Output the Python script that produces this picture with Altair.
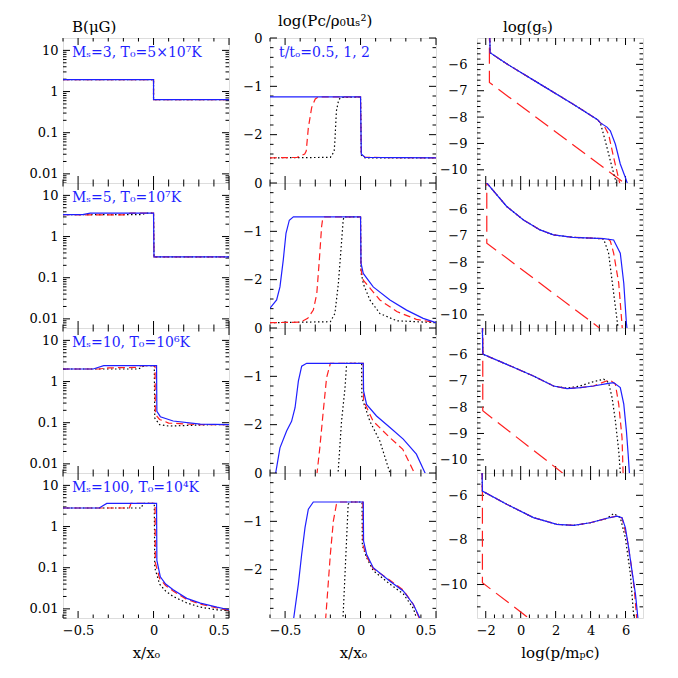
import altair as alt
import pandas as pd

# ---------------- data ----------------
# Column 1: B (muG) vs x/x_o, series t/t_o = 0.5 (black), 1 (red), 2 (blue)
B_M3_black = [(-0.6, 1.95), (0.0, 1.95), (0.0, 0.64), (0.5, 0.64)]
B_M3_red = [(-0.6, 1.95), (0.0, 1.95), (0.0, 0.64), (0.5, 0.64)]
B_M3_blue = [(-0.6, 1.95), (0.0, 1.95), (0.0, 0.64), (0.5, 0.64)]

B_M5_black = [(-0.6, 3.4), (-0.08, 3.4), (-0.05, 3.7), (0.0, 3.7), (0.003, 0.32), (0.5, 0.32)]
B_M5_red = [(-0.6, 3.4), (-0.35, 3.35), (-0.2, 3.35), (-0.15, 3.7), (0.0, 3.7), (0.003, 0.32), (0.5, 0.32)]
B_M5_blue = [(-0.6, 3.4), (-0.47, 3.4), (-0.42, 3.7), (0.0, 3.7), (0.003, 0.32), (0.5, 0.32)]

B_M10_black = [(-0.6, 2.02), (-0.1, 2.02), (-0.06, 2.43), (0.005, 2.43), (0.008, 0.13), (0.04, 0.09),
               (0.1, 0.083), (0.2, 0.085), (0.35, 0.089), (0.5, 0.09)]
B_M10_red = [(-0.6, 2.02), (-0.36, 2.02), (-0.3, 2.15), (-0.12, 2.2), (-0.08, 2.43), (0.01, 2.43),
             (0.012, 0.16), (0.04, 0.12), (0.1, 0.098), (0.3, 0.09), (0.5, 0.09)]
B_M10_blue = [(-0.6, 2.02), (-0.4, 2.02), (-0.33, 2.43), (0.02, 2.43), (0.022, 0.19), (0.045, 0.14),
              (0.13, 0.11), (0.31, 0.092), (0.5, 0.09)]

B_M100_black = [(-0.6, 2.82), (-0.08, 2.82), (-0.07, 3.64), (0.005, 3.64), (0.008, 0.1), (0.04, 0.04),
                (0.08, 0.027), (0.13, 0.02), (0.22, 0.014), (0.31, 0.011), (0.42, 0.0095), (0.5, 0.009)]
B_M100_red = [(-0.6, 2.82), (-0.16, 2.82), (-0.15, 3.64), (0.01, 3.64), (0.012, 0.13), (0.04, 0.055),
              (0.08, 0.037), (0.13, 0.027), (0.22, 0.017), (0.31, 0.013), (0.42, 0.0105), (0.5, 0.0093)]
B_M100_blue = [(-0.6, 2.82), (-0.36, 2.82), (-0.31, 3.64), (0.02, 3.64), (0.022, 0.15), (0.045, 0.06),
               (0.08, 0.04), (0.13, 0.029), (0.22, 0.018), (0.31, 0.0138), (0.42, 0.011), (0.5, 0.0095)]

# Column 2: log(Pc / rho0 us^2) vs x/x_o
PC_M3_black = [(-0.6, -2.48), (-0.2, -2.47), (-0.175, -2.35), (-0.17, -2.13), (-0.16, -1.51),
               (-0.145, -1.28), (-0.13, -1.23), (0.0, -1.22), (0.005, -2.42), (0.03, -2.48), (0.5, -2.48)]
PC_M3_red = [(-0.6, -2.48), (-0.42, -2.47), (-0.37, -2.40), (-0.36, -2.34), (-0.346, -1.86),
             (-0.324, -1.44), (-0.30, -1.26), (-0.28, -1.22), (0.0, -1.22), (0.005, -2.40),
             (0.03, -2.47), (0.5, -2.48)]
PC_M3_blue = [(-0.6, -1.22), (0.0, -1.22), (0.005, -2.40), (0.03, -2.47), (0.5, -2.48)]

PC_M5_black = [(-0.6, -2.89), (-0.2, -2.87), (-0.17, -2.70), (-0.147, -2.08), (-0.13, -1.39),
               (-0.115, -0.77), (-0.11, -0.70), (0.0, -0.70), (0.003, -1.85), (0.02, -2.1),
               (0.062, -2.42), (0.128, -2.70), (0.24, -2.85), (0.5, -2.89)]
PC_M5_red = [(-0.6, -2.89), (-0.4, -2.88), (-0.35, -2.80), (-0.313, -2.63), (-0.29, -2.29),
             (-0.273, -1.59), (-0.258, -0.90), (-0.25, -0.72), (-0.24, -0.70), (0.0, -0.70),
             (0.003, -1.80), (0.018, -2.01), (0.128, -2.42), (0.24, -2.66), (0.37, -2.82), (0.5, -2.89)]
PC_M5_blue = [(-0.6, -2.59), (-0.556, -2.42), (-0.534, -2.15), (-0.512, -1.59), (-0.494, -1.04),
              (-0.472, -0.77), (-0.445, -0.70), (0.0, -0.70), (0.003, -1.66), (0.018, -1.87),
              (0.084, -2.15), (0.195, -2.42), (0.305, -2.63), (0.415, -2.80), (0.5, -2.89)]

PC_M10_black = [(-0.15, -3.05), (-0.126, -1.93), (-0.103, -1.24), (-0.092, -0.73), (0.007, -0.73),
                (0.009, -1.44), (0.062, -1.93), (0.128, -2.34), (0.2, -3.05)]
PC_M10_red = [(-0.29, -3.05), (-0.27, -2.48), (-0.247, -1.72), (-0.225, -1.03), (-0.2, -0.73),
              (0.018, -0.73), (0.02, -1.51), (0.084, -1.93), (0.195, -2.27), (0.28, -2.51), (0.365, -3.05)]
PC_M10_blue = [(-0.565, -3.05), (-0.534, -2.48), (-0.49, -2.13), (-0.457, -1.93), (-0.434, -1.65),
               (-0.412, -1.10), (-0.39, -0.79), (-0.357, -0.73), (0.018, -0.73), (0.02, -1.30),
               (0.04, -1.58), (0.106, -1.82), (0.195, -2.06), (0.283, -2.30), (0.37, -2.61), (0.435, -3.05)]

PC_M100_black = [(-0.117, -3.05), (-0.097, -1.68), (-0.082, -0.65), (-0.07, -0.60), (0.01, -0.60),
                 (0.012, -1.5), (0.04, -1.75), (0.084, -2.02), (0.195, -2.3), (0.283, -2.5),
                 (0.35, -2.8), (0.375, -3.05)]
PC_M100_red = [(-0.232, -3.05), (-0.2, -1.68), (-0.18, -0.99), (-0.16, -0.65), (-0.14, -0.60),
               (0.015, -0.60), (0.017, -1.5), (0.04, -1.72), (0.084, -1.98), (0.195, -2.22),
               (0.283, -2.42), (0.35, -2.72), (0.395, -3.05)]
PC_M100_blue = [(-0.445, -3.05), (-0.412, -2.30), (-0.39, -1.68), (-0.368, -1.13), (-0.346, -0.75),
                (-0.313, -0.60), (0.018, -0.60), (0.02, -1.41), (0.04, -1.68), (0.084, -1.96),
                (0.195, -2.24), (0.283, -2.44), (0.35, -2.72), (0.4, -3.05)]

# Column 3: log(g_s) vs log(p / m_p c); 'up' is the long-dashed red curve
G_M3_black = [(-1.78, -4.5), (-1.75, -5.56), (-0.8, -5.98), (1.11, -6.75), (3.03, -7.52), (4.4, -8.1),
              (4.56, -8.22), (4.84, -8.90), (5.23, -9.91), (5.51, -10.6)]
G_M3_red = [(-1.78, -4.5), (-1.75, -5.56), (-0.8, -5.98), (1.11, -6.75), (3.03, -7.52), (4.4, -8.1),
            (4.56, -8.22), (4.75, -8.30), (5.03, -8.65), (5.32, -9.53), (5.70, -10.6)]
G_M3_blue = [(-1.78, -4.5), (-1.75, -5.56), (-0.8, -5.98), (1.11, -6.75), (3.03, -7.52), (4.4, -8.1),
             (4.56, -8.22), (4.94, -8.38), (5.13, -8.52), (5.42, -9.03), (5.70, -9.78), (5.99, -10.29),
             (6.15, -10.6)]
G_M3_up = [(-1.79, -4.5), (-1.79, -6.69), (5.51, -10.29), (5.93, -10.5)]

G_M5_black = [(-1.96, -4.5), (-1.94, -5.0), (-0.8, -5.89), (0.16, -6.40), (1.11, -6.78), (1.88, -6.97),
              (3.0, -7.06), (4.5, -7.11), (4.75, -7.13), (5.03, -7.66), (5.32, -9.18), (5.55, -10.38),
              (5.58, -10.6)]
G_M5_red = [(-1.96, -4.5), (-1.94, -5.0), (-0.8, -5.89), (0.16, -6.40), (1.11, -6.78), (1.88, -6.97),
            (3.0, -7.06), (4.75, -7.11), (5.0, -7.12), (5.13, -7.2), (5.32, -7.66), (5.61, -8.80),
            (5.80, -10.38), (5.82, -10.6)]
G_M5_blue = [(-1.96, -4.5), (-1.94, -5.0), (-0.8, -5.89), (0.16, -6.40), (1.11, -6.78), (1.88, -6.97),
             (3.0, -7.06), (4.75, -7.11), (5.32, -7.16), (5.70, -7.66), (5.90, -8.80), (6.05, -10.31),
             (6.1, -10.6)]
G_M5_up = [(-1.94, -4.5), (-1.94, -7.28), (4.27, -10.38), (4.5, -10.5)]

G_M10_black = [(-2.2, -4.5), (-2.17, -5.94), (-2.14, -6.0), (-0.8, -6.38), (0.73, -6.82), (1.88, -7.20),
               (2.65, -7.28), (3.4, -7.2), (3.98, -7.07), (4.75, -6.94), (5.03, -7.07), (5.23, -7.64),
               (5.42, -8.52), (5.61, -9.66), (5.70, -10.48), (5.71, -10.6)]
G_M10_red = [(-2.2, -4.5), (-2.17, -5.94), (-2.14, -6.0), (-0.8, -6.38), (0.73, -6.82), (1.88, -7.20),
             (2.65, -7.30), (3.41, -7.26), (4.17, -7.20), (4.94, -7.0), (5.13, -6.98), (5.42, -7.13),
             (5.61, -7.89), (5.80, -9.16), (5.86, -10.48), (5.87, -10.6)]
G_M10_blue = [(-2.2, -4.5), (-2.17, -5.94), (-2.14, -6.0), (-0.8, -6.38), (0.73, -6.82), (1.88, -7.20),
              (2.65, -7.30), (3.41, -7.26), (4.17, -7.20), (4.94, -7.11), (5.32, -7.07), (5.70, -7.26),
              (5.90, -7.89), (6.05, -8.90), (6.15, -9.78), (6.22, -10.48), (6.24, -10.6)]
G_M10_up = [(-2.17, -4.5), (-2.17, -8.14), (2.36, -10.48), (2.4, -10.5)]

G_M100_black = [(-2.22, -4.5), (-2.19, -5.81), (-0.8, -6.40), (0.73, -7.0), (2.07, -7.30), (3.03, -7.35),
                (3.98, -7.23), (4.94, -7.03), (5.32, -6.82), (5.70, -7.0), (5.99, -7.9), (6.28, -9.54),
                (6.47, -11.44), (6.48, -11.6)]
G_M100_red = [(-2.22, -4.5), (-2.19, -5.81), (-0.8, -6.40), (0.73, -7.0), (2.07, -7.30), (3.03, -7.35),
              (3.98, -7.23), (4.94, -7.03), (5.51, -6.93), (5.80, -7.02), (6.08, -7.9), (6.3, -9.0),
              (6.5, -10.2), (6.65, -11.6)]
G_M100_blue = [(-2.22, -4.5), (-2.19, -5.81), (-0.8, -6.40), (0.73, -7.0), (2.07, -7.30), (3.03, -7.35),
               (3.98, -7.23), (4.94, -7.03), (5.51, -6.93), (5.80, -7.0), (5.99, -7.45), (6.18, -8.35),
               (6.37, -9.39), (6.57, -10.44), (6.70, -11.44), (6.72, -11.6)]
G_M100_up = [(-2.19, -4.5), (-2.19, -9.92), (0.35, -11.44), (0.4, -11.5)]

# annotations
CASE_LABELS = ["Mₛ=3,  T₀=5×10⁷K", "Mₛ=5,  T₀=10⁷K", "Mₛ=10,  T₀=10⁶K", "Mₛ=100,  T₀=10⁴K"]
TIME_LABEL = "t/tₒ=0.5, 1, 2"

# axis ticks
X_DOM = [-0.6, 0.5]
X_MAJ = [-0.5, 0, 0.5]
X_MIN = [-0.6, -0.4, -0.3, -0.2, -0.1, 0.1, 0.2, 0.3, 0.4]
B_DOM = [0.006, 20]
B_MAJ = [0.01, 0.1, 1, 10]
B_MIN = [0.006, 0.007, 0.008, 0.009, 0.02, 0.03, 0.04, 0.05, 0.06, 0.07, 0.08, 0.09,
         0.2, 0.3, 0.4, 0.5, 0.6, 0.7, 0.8, 0.9, 2, 3, 4, 5, 6, 7, 8, 9]
PC_DOM = [-3, 0]
PC_MAJ = [0, -1, -2]
PC_MIN = [-0.2, -0.4, -0.6, -0.8, -1.2, -1.4, -1.6, -1.8, -2.2, -2.4, -2.6, -2.8]
P_DOM = [-2.5, 7]
P_MAJ = [-2, 0, 2, 4, 6]
P_MIN = [-1.5, -1, -0.5, 0.5, 1, 1.5, 2.5, 3, 3.5, 4.5, 5, 5.5, 6.5]
G_DOM = [-10.5, -5]
G_MAJ = [-10, -9, -8, -7, -6]
G_MIN = [-10.4, -10.2, -9.8, -9.6, -9.4, -9.2, -8.8, -8.6, -8.4, -8.2, -7.8, -7.6, -7.4, -7.2,
         -6.8, -6.6, -6.4, -6.2, -5.8, -5.6, -5.4, -5.2]
G4_DOM = [-11.5, -5]
G4_MAJ = [-10, -8, -6]
G4_MIN = [-11, -10.5, -9.5, -9, -8.5, -7.5, -7, -6.5, -5.5]

# ---------------- styling ----------------
W, H = 166, 145
FONT = "DejaVu Serif"
BLUE = "#1f1fff"
RED = "#ff1f1f"
BLACK = "#000000"
MAJ_LEN, MIN_LEN = 7, 3.5
STYLES = {
    "up": (RED, [16, 7]),
    "black": (BLACK, [1.5, 2.5]),
    "red": (RED, [7, 4]),
    "blue": (BLUE, []),
}


def to_df(pts):
    return pd.DataFrame({"x": [p[0] for p in pts], "y": [p[1] for p in pts],
                         "i": list(range(len(pts)))})


def panel(series, xdom, ydom, ylog, ymaj, ymin, xmaj, xmin, ylab_fmt, ypad,
          show_x, xfmt="~g", xtitle=None, note=None, title=None, title_dx=0):
    xs = alt.Scale(domain=xdom, nice=False, zero=False)
    if ylog:
        ys = alt.Scale(type="log", domain=ydom, nice=False)
    else:
        ys = alt.Scale(domain=ydom, nice=False, zero=False)
    # one axis definition shared by every layer of the panel
    yaxis = alt.Axis(orient="left", values=ymaj, format=ylab_fmt, ticks=False, domain=False,
                     grid=False, labelFont=FONT, labelFontSize=13, labelPadding=ypad,
                     labelColor="black", title=None)
    if show_x:
        xaxis = alt.Axis(orient="bottom", values=xmaj, format=xfmt, ticks=False,
                         domain=False, grid=False, labelFont=FONT, labelFontSize=13,
                         labelPadding=6, labelColor="black", title=xtitle,
                         titleFont=FONT, titleFontSize=15, titleFontWeight="normal",
                         titleColor="black", titlePadding=8)
    else:
        xaxis = alt.Axis(orient="bottom", values=xmaj, ticks=False, domain=False, grid=False,
                         labels=False, title=None)

    layers = []
    # inward ticks on all four sides, placed through the panel's scales
    for vals, ln in ((ymaj, MAJ_LEN), (ymin, MIN_LEN)):
        df = pd.DataFrame({"v": vals})
        for x0, x1 in ((0, ln), (W - ln, W)):
            layers.append(alt.Chart(df).mark_rule(color="black", strokeWidth=1).encode(
                y=alt.Y("v:Q", scale=ys, axis=yaxis), x=alt.value(x0), x2=alt.value(x1)))
    for vals, ln in ((xmaj, MAJ_LEN), (xmin, MIN_LEN)):
        df = pd.DataFrame({"v": vals})
        for y0, y1 in ((0, ln), (H - ln, H)):
            layers.append(alt.Chart(df).mark_rule(color="black", strokeWidth=1).encode(
                x=alt.X("v:Q", scale=xs, axis=xaxis), y=alt.value(y0), y2=alt.value(y1)))

    for name, pts in series:
        col, dash = STYLES[name]
        mk = dict(color=col, strokeWidth=1.2, clip=True)
        if dash:
            mk["strokeDash"] = dash
        layers.append(alt.Chart(to_df(pts)).mark_line(**mk).encode(
            x=alt.X("x:Q", scale=xs, axis=xaxis),
            y=alt.Y("y:Q", scale=ys, axis=yaxis),
            order="i:Q"))

    if note:
        layers.append(alt.Chart(pd.DataFrame({"t": [note]})).mark_text(
            align="left", baseline="middle", color=BLUE, font=FONT, fontSize=14).encode(
            x=alt.value(9), y=alt.value(15), text="t:N"))
    ch = alt.layer(*layers).properties(width=W, height=H)
    if title:
        ch = ch.properties(title=alt.TitleParams(title, anchor="start", frame="group", font=FONT,
                                                 fontSize=15, fontWeight="normal", color="black",
                                                 dx=title_dx, offset=3))
    return ch


B_SETS = [
    [("black", B_M3_black), ("red", B_M3_red), ("blue", B_M3_blue)],
    [("black", B_M5_black), ("red", B_M5_red), ("blue", B_M5_blue)],
    [("black", B_M10_black), ("red", B_M10_red), ("blue", B_M10_blue)],
    [("black", B_M100_black), ("red", B_M100_red), ("blue", B_M100_blue)],
]
PC_SETS = [
    [("black", PC_M3_black), ("red", PC_M3_red), ("blue", PC_M3_blue)],
    [("black", PC_M5_black), ("red", PC_M5_red), ("blue", PC_M5_blue)],
    [("black", PC_M10_black), ("red", PC_M10_red), ("blue", PC_M10_blue)],
    [("black", PC_M100_black), ("red", PC_M100_red), ("blue", PC_M100_blue)],
]
G_SETS = [
    [("up", G_M3_up), ("black", G_M3_black), ("red", G_M3_red), ("blue", G_M3_blue)],
    [("up", G_M5_up), ("black", G_M5_black), ("red", G_M5_red), ("blue", G_M5_blue)],
    [("up", G_M10_up), ("black", G_M10_black), ("red", G_M10_red), ("blue", G_M10_blue)],
    [("up", G_M100_up), ("black", G_M100_black), ("red", G_M100_red), ("blue", G_M100_blue)],
]

panels = []
for r in range(4):
    last = r == 3
    panels.append(panel(B_SETS[r], X_DOM, B_DOM, True, B_MAJ, B_MIN, X_MAJ, X_MIN, "~g", 5,
                        last, "~g", "x/xₒ", note=CASE_LABELS[r],
                        title="B(μG)" if r == 0 else None, title_dx=9))
    panels.append(panel(PC_SETS[r], X_DOM, PC_DOM, False, PC_MAJ, PC_MIN, X_MAJ, X_MIN, "d", 8,
                        last, "~g", "x/xₒ", note=TIME_LABEL if r == 0 else None,
                        title="log(Pc/ρ₀uₛ²)" if r == 0 else None, title_dx=8))
    panels.append(panel(G_SETS[r], P_DOM, G4_DOM if last else G_DOM, False,
                        G4_MAJ if last else G_MAJ, G4_MIN if last else G_MIN, P_MAJ, P_MIN, "d", 10,
                        last, "d", "log(p/mₚc)",
                        title="log(gₛ)" if r == 0 else None, title_dx=26))

chart = alt.concat(*panels, columns=3, spacing={"row": 0, "column": 41}, bounds="flush").properties(
    padding={"left": 20, "top": 5, "right": 5, "bottom": 5}
).configure_view(stroke="black", strokeWidth=1.2).configure(background="white")

chart.save("out.html", embed_options={"renderer": "svg", "actions": False})
